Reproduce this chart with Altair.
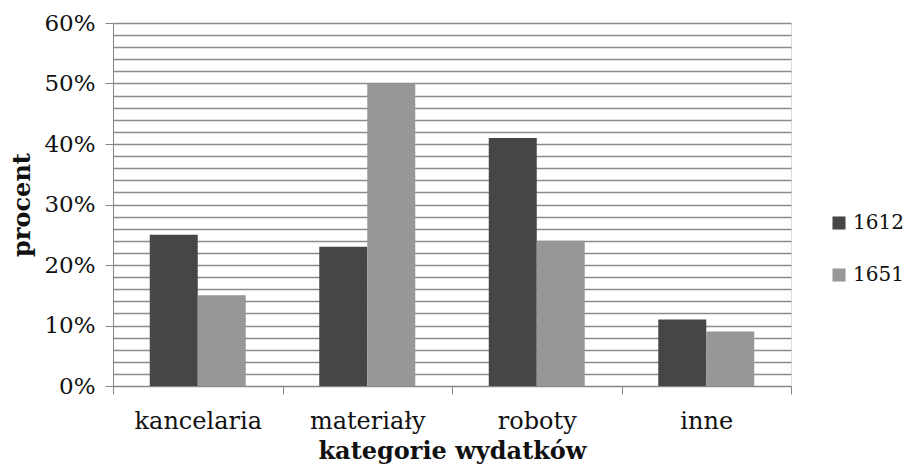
import altair as alt
import pandas as pd

categories = ["kancelaria", "materiały", "roboty", "inne"]
years = ["1612", "1651"]
values_1612 = [0.25, 0.23, 0.41, 0.11]
values_1651 = [0.15, 0.50, 0.24, 0.09]

rows = []
for c, a, b in zip(categories, values_1612, values_1651):
    rows.append({"kat": c, "rok": "1612", "v": a})
    rows.append({"kat": c, "rok": "1651", "v": b})
df = pd.DataFrame(rows)

FONT = "DejaVu Serif"
grid_vals = [i / 100 for i in range(0, 61, 2)]

chart = alt.Chart(df).mark_bar().encode(
    x=alt.X("kat:N", sort=categories,
            scale=alt.Scale(paddingInner=0, paddingOuter=0),
            axis=alt.Axis(title="kategorie wydatków", labelAngle=0, tickBand="extent",
                          grid=False, domainColor="#868686", tickColor="#868686",
                          tickSize=8, labelPadding=15, titlePadding=6,
                          labelFontSize=24, titleFontSize=24, labelFont=FONT, titleFont=FONT,
                          titleFontWeight="bold", labelColor="#111", titleColor="#111")),
    xOffset=alt.XOffset("rok:N", sort=years,
                        scale=alt.Scale(paddingInner=0, paddingOuter=0.766)),
    y=alt.Y("v:Q", scale=alt.Scale(domain=[0, 0.6], nice=False),
            axis=alt.Axis(title="procent", values=grid_vals, format=".0%",
                          labelExpr="round(datum.value*100) % 10 == 0 ? datum.label : ''",
                          tickOpacity={"expr": "round(datum.value*100) % 10 == 0 ? 1 : 0"},
                          grid=True, gridColor="#8c8c8c", gridWidth=1.3,
                          domainColor="#868686", tickColor="#868686", tickSize=8,
                          labelPadding=10, titlePadding=9,
                          labelFontSize=23, titleFontSize=24, labelFont=FONT, titleFont=FONT,
                          titleFontWeight="bold", labelColor="#111", titleColor="#111")),
    color=alt.Color("rok:N", sort=years,
                    scale=alt.Scale(domain=years, range=["#464646", "#979797"]),
                    legend=alt.Legend(title=None, orient="none", legendX=716, legendY=190,
                                      symbolType="square", symbolSize=170,
                                      symbolStrokeWidth=0, symbolOpacity=1,
                                      labelFontSize=20, labelFont=FONT, labelColor="#111",
                                      rowPadding=32, labelOffset=4)),
).properties(
    width=678, height=363,
    autosize=alt.AutoSizeParams(type="none"),
    padding={"left": 105, "top": 15, "right": 114, "bottom": 79},
).configure_view(stroke=None).configure(background="white")

chart.save("out.html", embed_options={"renderer": "svg", "actions": False})
